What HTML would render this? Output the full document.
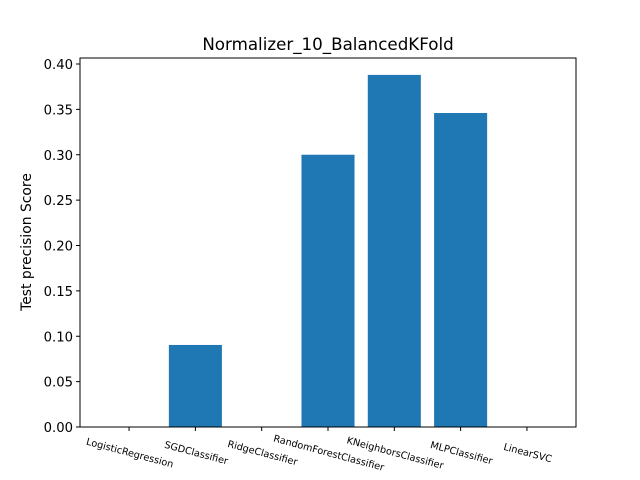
<!DOCTYPE html>
<html><head><meta charset="utf-8"><style>body{margin:0;background:#fff}svg{display:block;font-family:"DejaVu Sans","Liberation Sans",sans-serif}</style></head>
<body>
<svg id="chart" width="640" height="480">
<rect width="640" height="480" fill="#fff"/>
<text x="328" y="50" font-size="16.7" text-anchor="middle">Normalizer_10_BalancedKFold</text>
<text transform="translate(31,242) rotate(-90)" font-size="13.9" text-anchor="middle">Test precision Score</text>
<g id="bars"></g><g id="yt"></g><g id="xt"></g>
<rect x="80" y="58" width="496" height="369" fill="none" stroke="#000" stroke-width="1"/>
</svg>
<script>
const categories=["LogisticRegression","SGDClassifier","RidgeClassifier","RandomForestClassifier","KNeighborsClassifier","MLPClassifier","LinearSVC"];
const values=[0,0.0904,0,0.30,0.388,0.346,0];
const yTicks=[0,0.05,0.10,0.15,0.20,0.25,0.30,0.35,0.40];
const yTickLabels=["0.00","0.05","0.10","0.15","0.20","0.25","0.30","0.35","0.40"];
const NS="http://www.w3.org/2000/svg";
const L=80,R=576,B=427,T=58;
const xmin=-0.74,xmax=categories.length-1+0.74;
const x=i=>L+(i-xmin)/(xmax-xmin)*(R-L);
const y=v=>B-v*907.5;
const bw=0.8*(R-L)/(xmax-xmin);
function mk(t,a,p){const e=document.createElementNS(NS,t);for(const k in a)e.setAttribute(k,a[k]);p.appendChild(e);return e;}
const bars=document.getElementById('bars'),yt=document.getElementById('yt'),xt=document.getElementById('xt');
values.forEach((v,i)=>{
 const r=mk('rect',{x:x(i)-bw/2,y:y(v),width:bw,height:B-y(v),fill:'#1f77b4'},bars);
 
 
});
yTicks.forEach((v,i)=>{
 mk('line',{x1:L-4,x2:L,y1:y(v),y2:y(v),stroke:'#000'},yt);
 const t=mk('text',{x:L-7,y:y(v)+5,'font-size':13.2,'text-anchor':'end'},yt);
 t.textContent=yTickLabels[i];
 
 
});
categories.forEach((c,i)=>{
 const cx=x(i);
 mk('line',{x1:cx,x2:cx,y1:B,y2:B+4,stroke:'#000'},xt);
 const t=mk('text',{transform:`translate(${cx},${B+29}) rotate(15)`,'font-size':9.7,'text-anchor':'middle'},xt);
 t.textContent=c;
 
 
});
</script>
</body></html>
